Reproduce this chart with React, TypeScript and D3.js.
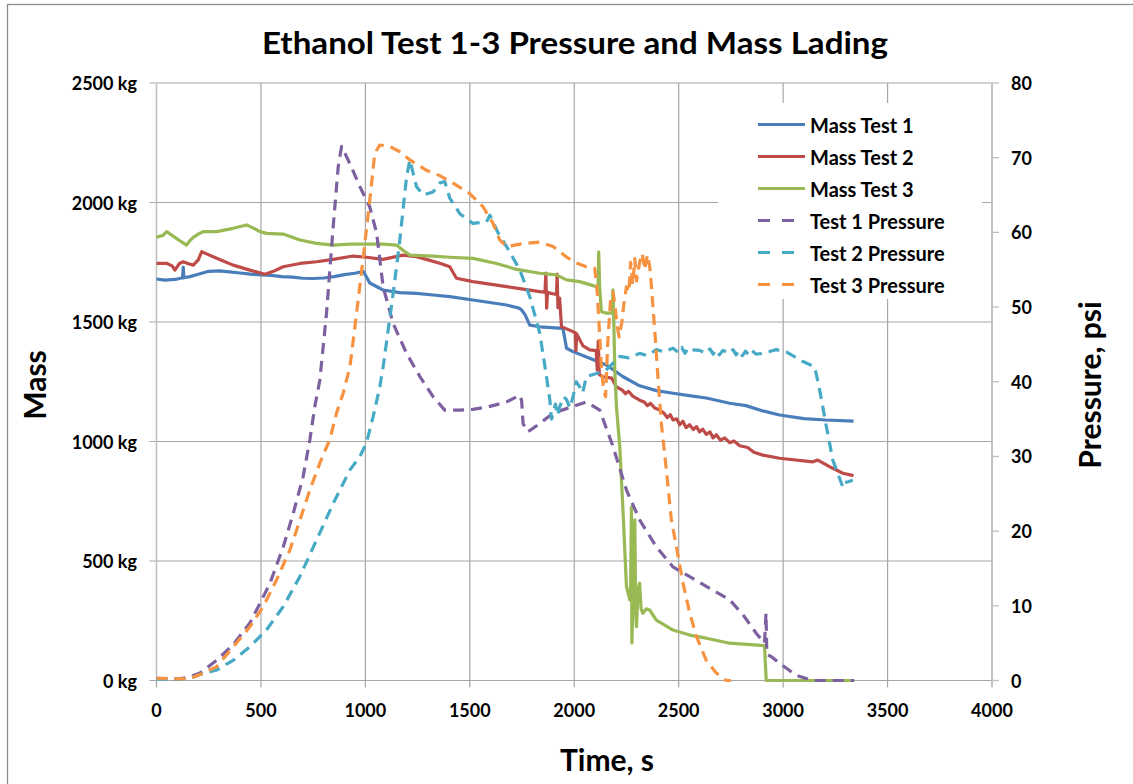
import React from "react";
import * as d3 from "d3";

type P = [number, number];

const xTicks = [0, 500, 1000, 1500, 2000, 2500, 3000, 3500, 4000];
const massTicks = [0, 500, 1000, 1500, 2000, 2500];
const psiTicks = [0, 10, 20, 30, 40, 50, 60, 70, 80];

const massTest1: P[] = [
  [0, 1680], [40, 1675], [90, 1678], [125, 1685], [128, 1730], [131, 1685], [160, 1690], [200, 1700],
  [250, 1712], [300, 1714], [350, 1710], [400, 1705], [450, 1700], [500, 1697], [550, 1695], [600, 1690],
  [650, 1688], [700, 1683], [750, 1682], [800, 1684], [850, 1690], [900, 1698], [950, 1704], [990, 1712],
  [1021, 1663], [1085, 1634], [1165, 1623], [1245, 1620], [1324, 1613], [1404, 1606], [1515, 1592],
  [1676, 1571], [1739, 1557], [1750, 1548], [1765, 1530], [1787, 1487], [1835, 1480], [1946, 1473],
  [1963, 1390], [1994, 1376], [2074, 1348], [2154, 1320], [2234, 1271], [2313, 1233], [2393, 1213],
  [2473, 1202], [2550, 1192], [2632, 1182], [2744, 1160], [2822, 1150], [2903, 1128], [2983, 1111],
  [3100, 1096], [3203, 1090], [3337, 1085],
];

const massTest2: P[] = [
  [0, 1745], [50, 1745], [75, 1735], [88, 1717], [110, 1745], [128, 1752], [150, 1745], [176, 1738],
  [200, 1760], [216, 1794], [240, 1785], [288, 1767], [367, 1738], [447, 1717], [519, 1700], [560, 1712],
  [606, 1731], [687, 1745], [766, 1752], [846, 1762], [941, 1776], [1005, 1771], [1084, 1762], [1180, 1780],
  [1245, 1773], [1300, 1760], [1360, 1745], [1404, 1731], [1436, 1683], [1515, 1669], [1676, 1648],
  [1835, 1627], [1860, 1625], [1864, 1705], [1868, 1558], [1872, 1625], [1883, 1621], [1915, 1615],
  [1918, 1700], [1922, 1560], [1930, 1600], [1939, 1480], [1978, 1466], [2005, 1455], [2008, 1380],
  [2012, 1450], [2042, 1400], [2074, 1383], [2105, 1380], [2110, 1300], [2115, 1420], [2120, 1280],
  [2137, 1271], [2180, 1265], [2201, 1229], [2230, 1215], [2245, 1200], [2260, 1210], [2280, 1190],
  [2313, 1173], [2335, 1165], [2350, 1150], [2365, 1160], [2385, 1140], [2409, 1132], [2430, 1118],
  [2445, 1100], [2460, 1112], [2473, 1090], [2490, 1095], [2505, 1070], [2520, 1085], [2535, 1058],
  [2552, 1070], [2570, 1050], [2585, 1062], [2600, 1040], [2615, 1052], [2632, 1030], [2650, 1040],
  [2665, 1015], [2680, 1028], [2700, 1005], [2720, 1015], [2745, 995], [2765, 1002], [2792, 982],
  [2830, 975], [2860, 955], [2903, 943], [2983, 930], [3142, 915], [3166, 922], [3222, 895], [3286, 867],
  [3337, 857],
];

const massTest3: P[] = [
  [0, 1855], [30, 1862], [49, 1878], [70, 1865], [88, 1854], [115, 1838], [144, 1822], [160, 1840],
  [176, 1854], [200, 1868], [224, 1878], [288, 1878], [367, 1892], [431, 1906], [460, 1895], [495, 1878],
  [527, 1871], [606, 1868], [687, 1843], [766, 1829], [846, 1822], [926, 1826], [1005, 1826], [1085, 1826],
  [1149, 1822], [1180, 1800], [1213, 1780], [1324, 1776], [1404, 1771], [1515, 1766], [1628, 1745],
  [1724, 1720], [1835, 1704], [1915, 1697], [1963, 1676], [2026, 1669], [2106, 1648], [2114, 1645],
  [2117, 1794], [2122, 1640], [2130, 1543], [2154, 1537], [2178, 1537], [2183, 1540], [2185, 1634],
  [2188, 1560], [2194, 1300], [2202, 1146], [2218, 978], [2234, 700], [2250, 392], [2260, 360],
  [2266, 337], [2270, 400], [2274, 727], [2276, 157], [2282, 350], [2290, 672], [2294, 300], [2298, 225],
  [2305, 380], [2313, 407], [2320, 300], [2329, 281], [2345, 300], [2361, 295], [2393, 253], [2473, 211],
  [2553, 190], [2632, 177], [2744, 156], [2911, 146], [2919, 0], [3340, 0],
];

const pressureTest1: P[] = [
  [0, 0.3], [100, 0.2], [150, 0.4], [208, 1.0], [288, 2.7], [367, 4.8], [447, 7.7], [495, 10.3],
  [543, 13.0], [607, 17.9], [655, 22.4], [702, 27.3], [734, 32.2], [758, 36.7], [782, 40.2], [814, 49.2],
  [846, 60.8], [870, 68.8], [886, 71.5], [926, 69.2], [974, 66.1], [1021, 63.4], [1054, 59.9], [1085, 52.7],
  [1133, 47.8], [1197, 43.8], [1261, 40.7], [1324, 38.0], [1380, 36.2], [1450, 36.2], [1515, 36.3],
  [1596, 36.7], [1676, 37.3], [1739, 38.2], [1748, 37.5], [1755, 34.4], [1778, 33.3], [1835, 34.4],
  [1899, 35.8], [1963, 36.4], [2058, 37.3], [2122, 36.2], [2186, 31.3], [2250, 25.5], [2313, 21.5],
  [2393, 17.9], [2473, 15.2], [2553, 13.9], [2632, 12.6], [2744, 10.8], [2808, 8.8], [2872, 6.3],
  [2911, 5.0], [2918, 9.0], [2922, 3.5], [2943, 3.2], [2983, 2.3], [3063, 0.7], [3142, 0], [3340, 0],
];

const pressureTest2: P[] = [
  [0, 0.2], [150, 0.2], [208, 0.8], [288, 1.4], [367, 2.7], [447, 4.5], [527, 6.8], [607, 9.9],
  [686, 13.9], [766, 18.8], [846, 23.7], [926, 28.2], [974, 30.0], [1005, 31.8], [1037, 35.3], [1069, 39.3],
  [1085, 42.0], [1133, 51.8], [1165, 59.0], [1197, 67.4], [1213, 69.7], [1245, 66.1], [1277, 65.0],
  [1324, 65.4], [1356, 66.6], [1380, 66.8], [1404, 64.6], [1452, 62.5], [1515, 61.2], [1580, 61.4],
  [1596, 62.3], [1636, 59.9], [1676, 58.1], [1739, 55.0], [1787, 51.4], [1835, 46.5], [1867, 40.7],
  [1883, 37.6], [1891, 35.0], [1910, 37.0], [1920, 35.5], [1931, 36.7], [1950, 38.0], [1963, 37.6],
  [1980, 36.5], [1994, 38.0], [2010, 40.0], [2026, 39.3], [2040, 38.5], [2058, 40.7], [2106, 41.1],
  [2150, 41.5], [2186, 42.5], [2218, 43.4], [2260, 43.2], [2313, 43.8], [2350, 43.5], [2393, 44.3],
  [2430, 44.0], [2473, 44.5], [2500, 43.9], [2515, 44.6], [2530, 43.8], [2545, 44.5], [2553, 44.3],
  [2600, 44.2], [2632, 43.8], [2650, 44.4], [2665, 43.7], [2680, 44.3], [2695, 43.6], [2712, 44.2],
  [2744, 43.8], [2760, 44.3], [2775, 43.6], [2790, 44.2], [2805, 43.5], [2820, 44.1], [2835, 43.6],
  [2850, 44.2], [2870, 43.7], [2903, 43.8], [2967, 44.3], [3015, 44.0], [3095, 42.7], [3151, 42.0],
  [3175, 38.9], [3207, 34.0], [3238, 29.5], [3262, 27.7], [3286, 25.9], [3290, 26.5], [3310, 26.6],
  [3334, 26.8],
];

const pressureTest3: P[] = [
  [0, 0.3], [150, 0.2], [208, 0.8], [288, 1.85], [367, 4.5], [447, 7.2], [511, 9.9], [575, 13.5],
  [639, 17.5], [687, 21.5], [734, 25.5], [782, 29.1], [830, 32.3], [862, 35.8], [894, 38.5], [926, 42.0],
  [958, 49.2], [990, 56.7], [1021, 64.3], [1045, 70.6], [1069, 71.7], [1117, 71.5], [1165, 70.8],
  [1213, 69.7], [1293, 68.3], [1356, 67.6], [1420, 66.6], [1500, 65.2], [1564, 63.4], [1611, 61.2],
  [1643, 59.0], [1676, 58.1], [1755, 58.5], [1835, 58.7], [1899, 58.1], [1963, 56.7], [2010, 55.9],
  [2058, 55.4], [2098, 55.2], [2110, 52.0], [2120, 47.0], [2130, 42.0], [2140, 39.0], [2150, 38.0],
  [2160, 45.0], [2175, 51.5], [2186, 52.0], [2196, 50.0], [2205, 47.5], [2215, 46.0], [2228, 48.0],
  [2240, 51.0], [2250, 52.7], [2262, 52.0], [2270, 56.0], [2280, 53.0], [2290, 56.5], [2298, 53.5],
  [2313, 56.0], [2325, 57.2], [2338, 55.0], [2350, 57.0], [2361, 55.5], [2369, 53.0], [2385, 47.0],
  [2401, 40.5], [2417, 34.4], [2441, 28.2], [2465, 21.5], [2489, 17.9], [2521, 13.0], [2553, 9.0],
  [2585, 5.9], [2632, 2.7], [2680, 1.0], [2728, 0], [2750, 0],
];

const seriesNames = ["Mass Test 1", "Mass Test 2", "Mass Test 3", "Test 1 Pressure", "Test 2 Pressure", "Test 3 Pressure"];
const seriesColors = ["#4A7EBB", "#BE4B48", "#98B954", "#7D60A0", "#46AAC5", "#F69240"];

const FONT = "Lato, 'Open Sans', sans-serif";

export default function App() {
  const x = d3.scaleLinear().domain([0, 4000]).range([156.5, 992]);
  const yM = d3.scaleLinear().domain([0, 2500]).range([680.5, 83]);
  const yP = d3.scaleLinear().domain([0, 80]).range([680.5, 83]);

  const lineM = d3.line<P>().x((d) => x(d[0])).y((d) => yM(d[1]));
  const lineP = d3.line<P>().x((d) => x(d[0])).y((d) => yP(d[1]));

  const massSeries = [massTest1, massTest2, massTest3];
  const pressSeries = [pressureTest1, pressureTest2, pressureTest3];

  const grid = "#a6a6a6";
  const axisC = "#bfbfbf";

  return (
    <svg width={1133} height={784} style={{ position: "absolute", left: 0, top: 0, display: "block" }}>
      <rect x={0} y={0} width={1133} height={784} fill="#fff" />
      <rect x={7.5} y={4.5} width={1150} height={820} fill="#fff" stroke="#8c8c8c" strokeWidth={1.3} />

      {/* gridlines */}
      {xTicks.map((t) => (
        <line key={"vx" + t} x1={x(t)} x2={x(t)} y1={yM(2500)} y2={yM(0) + 7} stroke={grid} strokeWidth={1.2} />
      ))}
      {massTicks.map((m) => (
        <line key={"hy" + m} x1={x(0) - 7} x2={x(4000)} y1={yM(m)} y2={yM(m)} stroke={grid} strokeWidth={1.2} />
      ))}
      {/* axes */}
      <line x1={x(0)} x2={x(0)} y1={yM(2500)} y2={yM(0)} stroke={axisC} strokeWidth={1.3} />
      <line x1={x(4000)} x2={x(4000)} y1={yP(80)} y2={yP(0) + 6} stroke={axisC} strokeWidth={1.3} />
      {psiTicks.map((p) => (
        <line key={"pt" + p} x1={x(4000)} x2={x(4000) + 7} y1={yP(p)} y2={yP(p)} stroke={axisC} strokeWidth={1.3} />
      ))}

      {/* tick labels */}
      <g fontFamily={FONT} fontWeight="bold" fontSize={18} fill="#000">
        {massTicks.map((m) => (
          <text key={"ml" + m} x={137} y={yM(m)} textAnchor="end" dominantBaseline="central">
            {m} kg
          </text>
        ))}
        {psiTicks.map((p) => (
          <text key={"pl" + p} x={1011} y={yP(p)} textAnchor="start" dominantBaseline="central">
            {p}
          </text>
        ))}
        {xTicks.map((t) => (
          <text key={"xl" + t} x={x(t)} y={710} textAnchor="middle" dominantBaseline="central">
            {t}
          </text>
        ))}
      </g>

      {/* series */}
      {massSeries.map((s, i) => (
        <path key={"m" + i} d={lineM(s) || ""} fill="none" stroke={seriesColors[i]} strokeWidth={3.2} strokeLinejoin="round" />
      ))}
      {pressSeries.map((s, i) => (
        <path
          key={"p" + i}
          d={lineP(s) || ""}
          fill="none"
          stroke={seriesColors[i + 3]}
          strokeWidth={3.2}
          strokeDasharray="11,7"
          strokeLinejoin="round"
        />
      ))}

      {/* legend */}
      <rect x={718} y={103} width={264} height={196} fill="#fff" />
      {seriesNames.map((n, i) => {
        const ly = 124.5 + i * 32;
        return (
          <g key={"lg" + i}>
            {i < 3 ? (
              <line x1={758} x2={805} y1={ly} y2={ly} stroke={seriesColors[i]} strokeWidth={3.2} />
            ) : (
              <line x1={758} x2={794} y1={ly} y2={ly} stroke={seriesColors[i]} strokeWidth={3.2} strokeDasharray="12,12" />
            )}
            <text x={810} y={ly} fontFamily={FONT} fontWeight="bold" fontSize={20} dominantBaseline="central">
              {n}
            </text>
          </g>
        );
      })}

      {/* titles */}
      <text x={575} y={54} textAnchor="middle" fontFamily={FONT} fontWeight="bold" fontSize={30} textLength={626} lengthAdjust="spacingAndGlyphs">
        Ethanol Test 1-3 Pressure and Mass Lading
      </text>
      <text x={607} y={771} textAnchor="middle" fontFamily={FONT} fontWeight="bold" fontSize={30}>
        Time, s
      </text>
      <text transform="translate(46,385) rotate(-90)" textAnchor="middle" fontFamily={FONT} fontWeight="bold" fontSize={30}>
        Mass
      </text>
      <text transform="translate(1101,385) rotate(-90)" textAnchor="middle" fontFamily={FONT} fontWeight="bold" fontSize={30}>
        Pressure, psi
      </text>
    </svg>
  );
}
